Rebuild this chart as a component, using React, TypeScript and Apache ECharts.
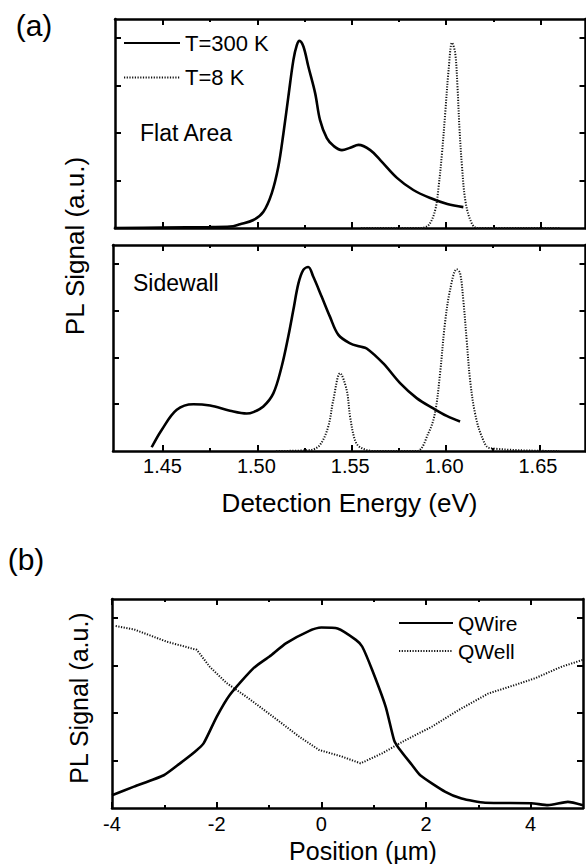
import React, { useEffect, useRef } from "react";
import * as echarts from "echarts";

// ---- Panel (a), Flat Area ----
const flat300E = [1.424, 1.45, 1.475, 1.4855, 1.4908, 1.4979, 1.5032, 1.5076, 1.5111, 1.5138, 1.5164, 1.5191, 1.5209, 1.5223, 1.5244, 1.527, 1.5306, 1.5332, 1.5368, 1.5403, 1.5448, 1.5492, 1.5536, 1.5598, 1.5651, 1.5741, 1.5826, 1.5916, 1.6006, 1.6091];
const flat300I = [0.0, 0.01, 0.02, 0.03, 0.08, 0.168, 0.343, 0.73, 1.29, 1.99, 2.76, 3.54, 3.85, 3.94, 3.82, 3.4, 2.84, 2.27, 1.89, 1.73, 1.64, 1.69, 1.75, 1.64, 1.43, 1.05, 0.8, 0.63, 0.505, 0.44];
const flat8E = [1.555, 1.5863, 1.5907, 1.5942, 1.596, 1.5978, 1.5995, 1.6013, 1.6031, 1.6048, 1.606, 1.6071, 1.6084, 1.6101, 1.6128, 1.6163, 1.66];
const flat8I = [0, 0, 0.06, 0.38, 0.87, 1.58, 2.42, 3.33, 3.9, 3.68, 2.97, 2.06, 1.29, 0.59, 0.17, 0, 0];

// ---- Panel (a), Sidewall ----
const side300E = [1.444, 1.4493, 1.4573, 1.4661, 1.475, 1.4855, 1.4944, 1.4979, 1.5032, 1.5085, 1.5129, 1.5164, 1.5191, 1.5218, 1.5244, 1.527, 1.5297, 1.5341, 1.5385, 1.543, 1.5492, 1.5545, 1.558, 1.5668, 1.5757, 1.5845, 1.5933, 1.6004, 1.6075];
const side300I = [0.08, 0.45, 0.88, 1.0, 0.97, 0.86, 0.8, 0.83, 0.95, 1.23, 1.8, 2.44, 3.01, 3.58, 3.87, 3.93, 3.72, 3.3, 2.87, 2.48, 2.3, 2.23, 2.19, 1.87, 1.45, 1.13, 0.91, 0.75, 0.63];
const side8E = [1.51, 1.5279, 1.5332, 1.5376, 1.5403, 1.5439, 1.5474, 1.5492, 1.5518, 1.5545, 1.5615, 1.5845, 1.5907, 1.5942, 1.5969, 1.5995, 1.6022, 1.6057, 1.6075, 1.6092, 1.611, 1.6128, 1.6154, 1.619, 1.6234, 1.66];
const side8I = [0, 0.02, 0.13, 0.52, 1.09, 1.66, 1.3, 0.73, 0.23, 0.08, 0, 0, 0.38, 0.81, 1.66, 2.73, 3.44, 3.88, 3.8, 3.23, 2.37, 1.52, 0.81, 0.31, 0.06, 0];

// ---- Panel (b) ----
const qwireX = [-4.0, -3.58, -3.01, -2.7, -2.41, -2.25, -2.0, -1.75, -1.3, -0.99, -0.67, -0.23, 0.0, 0.31, 0.66, 0.78, 0.97, 1.23, 1.39, 1.48, 1.73, 1.89, 2.37, 2.68, 3.13, 4.01, 4.33, 4.71, 5.0];
const qwireY = [0.27, 0.45, 0.69, 0.94, 1.19, 1.36, 1.92, 2.38, 2.94, 3.19, 3.47, 3.73, 3.8, 3.78, 3.54, 3.4, 2.91, 2.13, 1.43, 1.26, 0.91, 0.69, 0.34, 0.2, 0.11, 0.1, 0.06, 0.13, 0.06];
const qwellX = [-3.93, -3.58, -2.95, -2.38, -2.13, -1.81, -1.43, -0.92, -0.42, -0.04, 0.4, 0.75, 1.16, 1.61, 2.11, 2.62, 3.19, 3.7, 4.08, 4.58, 5.0];
const qwellY = [3.83, 3.76, 3.5, 3.33, 2.97, 2.63, 2.34, 1.92, 1.5, 1.22, 1.08, 0.94, 1.15, 1.43, 1.71, 2.06, 2.41, 2.59, 2.73, 2.97, 3.12];

// ---- Ticks ----
const energyMajorTicks = [1.45, 1.5, 1.55, 1.6, 1.65];
const energyMinorTicks = [1.475, 1.525, 1.575, 1.625];
const positionMajorTicks = [-4, -2, 0, 2, 4];
const positionMinorTicks = [-3, -1, 1, 3];
const signalTicks = [1, 2, 3, 4];

const FONT = "'Liberation Sans', Arial, Helvetica, sans-serif";
const BLACK = "#000";

const zip = (xs: number[], ys: number[]) => xs.map((x, i) => [x, ys[i]]);

function xAxes(gridIndex: number, min: number, max: number, major: number[], minor: number[], label: any, extra: any) {
  const base = (position: string, ticks: number[], len: number, line: boolean, lab: any, more: any) => ({
    type: "value",
    gridIndex,
    position,
    min,
    max,
    ...(more || {}),
    axisLine: { show: line, onZero: false, lineStyle: { color: BLACK, width: 2.5 } },
    axisTick: { show: true, inside: true, length: len, customValues: ticks, lineStyle: { color: BLACK, width: 2 } },
    axisLabel: lab || { show: false },
    splitLine: { show: false },
  });
  return [
    base("bottom", major, 6, true, label, extra),
    base("bottom", minor, 3, false, null, null),
    base("top", major, 6, true, null, null),
    base("top", minor, 3, false, null, null),
  ];
}

function yAxes(gridIndex: number) {
  const base = (position: string) => ({
    type: "value",
    gridIndex,
    position,
    min: 0,
    max: 4.4,
    axisLine: { show: true, onZero: false, lineStyle: { color: BLACK, width: 2.5 } },
    axisTick: { show: true, inside: true, length: 6, customValues: signalTicks, lineStyle: { color: BLACK, width: 2 } },
    axisLabel: { show: false },
    splitLine: { show: false },
  });
  return [base("left"), base("right")];
}

const solid = { color: BLACK, width: 2.6, type: "solid" };
const dotted = { color: "#111", width: 2, type: [1.2, 1.5] };

// energy axis of the sidewall panel: 1.4235 .. 1.674 eV over 472.5 px
const E_MIN = 1.4235;
const E_MAX = 1.674;
const SIDE_LEFT = 113;
const SIDE_WIDTH = 472.5;
const LABEL_MIN = 1.4;
const pxPerEV = SIDE_WIDTH / (E_MAX - E_MIN);

export default function App() {
  const ref = useRef<HTMLDivElement>(null);
  useEffect(() => {
    if (!ref.current) return;
    const chart = echarts.init(ref.current, undefined, { renderer: "svg" });
    const energyLabelFmt = (v: number) => {
      const k = Math.round(v * 1000);
      if (v < 1.44 || k % 50 !== 0) return "";
      return (k / 1000).toFixed(2);
    };
    const posLabelFmt = (v: number) => (Math.round(v) % 2 === 0 ? String(v) : "");
    const option: any = {
      animation: false,
      backgroundColor: "#fff",
      textStyle: { fontFamily: FONT },
      grid: [
        { left: 115, top: 19, width: 470.5, height: 209 },
        { left: SIDE_LEFT, top: 245, width: SIDE_WIDTH, height: 206 },
        { left: 112, top: 599, width: 473.5, height: 209 },
        // label-only grid sharing the sidewall panel's energy scale
        { left: SIDE_LEFT - (E_MIN - LABEL_MIN) * pxPerEV, top: 245, width: (E_MAX - LABEL_MIN) * pxPerEV, height: 206 },
      ],
      xAxis: [
        ...xAxes(0, 1.4246, 1.6738, energyMajorTicks, energyMinorTicks, null, null),
        ...xAxes(1, E_MIN, E_MAX, energyMajorTicks, energyMinorTicks, null, null),
        ...xAxes(2, -4, 5, positionMajorTicks, positionMinorTicks,
          { show: true, formatter: posLabelFmt, margin: 6, fontSize: 20, color: BLACK, fontFamily: FONT },
          { interval: 2 }),
        {
          type: "value",
          gridIndex: 3,
          position: "bottom",
          min: LABEL_MIN,
          max: E_MAX,
          interval: 0.05,
          axisLine: { show: false, onZero: false },
          axisTick: { show: false },
          axisLabel: { show: true, formatter: energyLabelFmt, margin: 5, fontSize: 20, color: BLACK, fontFamily: FONT },
          splitLine: { show: false },
        },
      ],
      yAxis: [
        ...yAxes(0),
        ...yAxes(1),
        ...yAxes(2),
        { type: "value", gridIndex: 3, show: false, min: 0, max: 4.4 },
      ],
      legend: [
        {
          orient: "vertical",
          left: 123,
          top: 32,
          padding: 0,
          itemWidth: 56,
          itemHeight: 1,
          itemGap: 12.5,
          selectedMode: false,
          itemStyle: { opacity: 0 },
          data: ["T=300 K", "T=8 K"],
          textStyle: { fontSize: 22, color: BLACK, fontFamily: FONT, lineHeight: 22 },
        },
        {
          orient: "vertical",
          left: 398,
          top: 612.5,
          padding: 0,
          itemWidth: 54,
          itemHeight: 1,
          itemGap: 7,
          selectedMode: false,
          itemStyle: { opacity: 0 },
          data: ["QWire", "QWell"],
          textStyle: { fontSize: 21, color: BLACK, fontFamily: FONT, lineHeight: 21 },
        },
      ],
      series: [
        { name: "T=300 K", type: "line", xAxisIndex: 0, yAxisIndex: 0, data: zip(flat300E, flat300I), symbol: "none", smooth: 0.35, lineStyle: solid, itemStyle: { color: BLACK } },
        { name: "T=8 K", type: "line", xAxisIndex: 0, yAxisIndex: 0, data: zip(flat8E, flat8I), symbol: "none", smooth: 0.35, lineStyle: dotted, itemStyle: { color: "#111" } },
        { name: "T=300 K", type: "line", xAxisIndex: 4, yAxisIndex: 2, data: zip(side300E, side300I), symbol: "none", smooth: 0.35, lineStyle: solid, itemStyle: { color: BLACK } },
        { name: "T=8 K", type: "line", xAxisIndex: 4, yAxisIndex: 2, data: zip(side8E, side8I), symbol: "none", smooth: 0.35, lineStyle: dotted, itemStyle: { color: "#111" } },
        { name: "QWire", type: "line", xAxisIndex: 8, yAxisIndex: 4, data: zip(qwireX, qwireY), symbol: "none", smooth: 0.2, lineStyle: solid, itemStyle: { color: BLACK } },
        { name: "QWell", type: "line", xAxisIndex: 8, yAxisIndex: 4, data: zip(qwellX, qwellY), symbol: "none", smooth: false, lineStyle: dotted, itemStyle: { color: "#111" } },
      ],
      graphic: [
        { type: "text", x: 34, y: 25, style: { text: "(a)", fontSize: 30, fontFamily: FONT, fill: BLACK, align: "center", verticalAlign: "middle" } },
        { type: "text", x: 26, y: 559, style: { text: "(b)", fontSize: 30, fontFamily: FONT, fill: BLACK, align: "center", verticalAlign: "middle" } },
        { type: "text", x: 75, y: 246, rotation: Math.PI / 2, style: { text: "PL Signal (a.u.)", fontSize: 26, fontFamily: FONT, fill: BLACK, align: "center", verticalAlign: "middle" } },
        { type: "text", x: 79, y: 698, rotation: Math.PI / 2, style: { text: "PL Signal (a.u.)", fontSize: 25, fontFamily: FONT, fill: BLACK, align: "center", verticalAlign: "middle" } },
        { type: "text", x: 140, y: 133, style: { text: "Flat Area", fontSize: 23, fontFamily: FONT, fill: BLACK, align: "left", verticalAlign: "middle" } },
        { type: "text", x: 133, y: 283, style: { text: "Sidewall", fontSize: 23, fontFamily: FONT, fill: BLACK, align: "left", verticalAlign: "middle" } },
        { type: "text", x: 349.5, y: 503, style: { text: "Detection Energy (eV)", fontSize: 26, fontFamily: FONT, fill: BLACK, align: "center", verticalAlign: "middle" } },
        { type: "text", x: 363, y: 851, style: { text: "Position (\u00b5m)", fontSize: 25, fontFamily: FONT, fill: BLACK, align: "center", verticalAlign: "middle" } },
      ],
    };
    chart.setOption(option);
    return () => chart.dispose();
  }, []);
  return <div ref={ref} style={{ position: "fixed", left: 0, top: 0, width: 586, height: 864, background: "#fff" }} />;
}
